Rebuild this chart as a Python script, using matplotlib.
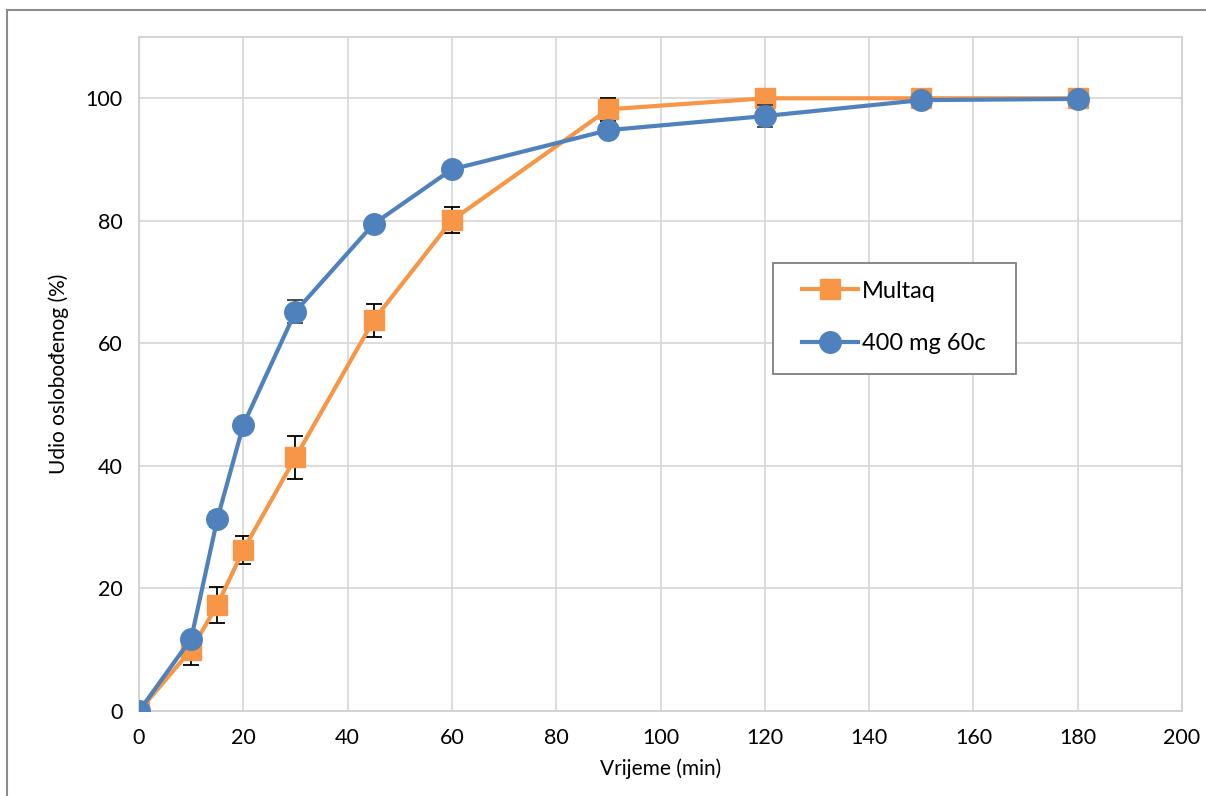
import matplotlib
matplotlib.use("Agg")
import matplotlib.pyplot as plt
from matplotlib.patches import Rectangle

plt.rcParams['font.family'] = ['Lato', 'DejaVu Sans']

time_min = [0, 10, 15, 20, 30, 45, 60, 90, 120, 150, 180]
multaq = [0, 10.0, 17.3, 26.3, 41.4, 63.8, 80.1, 98.2, 100.0, 100.0, 100.0]
multaq_err = [0, 2.5, 3.0, 2.3, 3.5, 2.7, 2.1, 1.9, 0.3, 0.3, 0.3]
mg400 = [0, 11.8, 31.3, 46.7, 65.2, 79.5, 88.4, 94.8, 97.1, 99.7, 99.9]
mg400_err = [0, 0.8, 1.2, 1.0, 1.8, 1.0, 1.0, 1.0, 1.8, 0.5, 0.3]
xticks = [0, 20, 40, 60, 80, 100, 120, 140, 160, 180, 200]
yticks = [0, 20, 40, 60, 80, 100]

orange = '#F79646'
blue = '#4F81BD'

fig = plt.figure(figsize=(12.06, 7.96), dpi=100)
ax = fig.add_axes([0.1153, 0.1068, 0.9801 - 0.1153, 0.9535 - 0.1068])

# outer chart frame
fig.patches.append(Rectangle((7 / 1206, -0.05), 1.2, 1 - 10 / 796 + 0.05,
                             transform=fig.transFigure, fill=False,
                             edgecolor='#8c8c8c', linewidth=1.5))

ax.errorbar(time_min, multaq, yerr=multaq_err, fmt='none', ecolor='black',
            elinewidth=1.3, capsize=6, capthick=1.3, zorder=2)
ax.plot(time_min, multaq, color=orange, marker='s', markersize=14.5,
        linewidth=3.0, label='Multaq', zorder=3)
ax.errorbar(time_min, mg400, yerr=mg400_err, fmt='none', ecolor='#404040',
            elinewidth=1.3, capsize=6, capthick=1.3, zorder=4)
ax.plot(time_min, mg400, color=blue, marker='o', markersize=15.5,
        linewidth=3.0, label='400 mg 60c', zorder=5)

ax.set_xlim(0, 200)
ax.set_ylim(0, 110)
ax.set_xticks(xticks)
ax.set_yticks(yticks)
ax.grid(True, color='#d9d9d9', linewidth=1.3)
ax.set_axisbelow(True)
for s in ax.spines.values():
    s.set_color('#d0d0d0')
    s.set_linewidth(1.3)
ax.tick_params(length=0, labelsize=15.5, pad=12, colors='black')
ax.set_xlabel('Vrijeme (min)', fontsize=15, labelpad=8)
ax.set_ylabel('Udio oslobođenog (%)', fontsize=15, labelpad=12)

# legend box drawn separately
ax.add_patch(Rectangle((0.6079, 0.5), 0.8408 - 0.6079, 0.6647 - 0.5,
                       transform=ax.transAxes, facecolor='white',
                       edgecolor='#7f7f7f', linewidth=1.3, zorder=6))
leg = ax.legend(loc='center', bbox_to_anchor=(0.7239, 0.5838),
                fontsize=17, frameon=False, borderpad=0, labelspacing=1.35,
                handlelength=2.35, handletextpad=0.2, borderaxespad=0)
leg.set_zorder(7)

fig.savefig('out.png', dpi=100)
